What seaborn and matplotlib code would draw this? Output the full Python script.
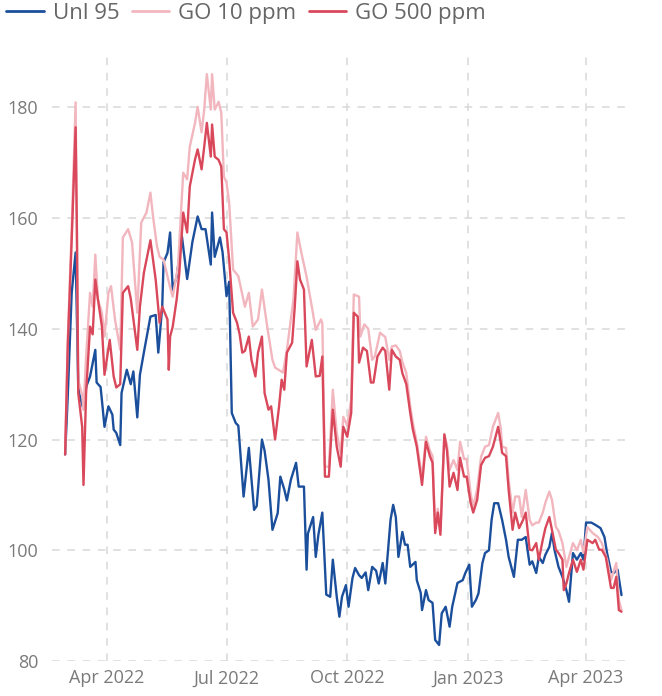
import pandas as pd
import matplotlib.pyplot as plt
import matplotlib.dates as mdates
import seaborn as sns

sns.set_theme(style="white")
plt.rcParams["font.family"] = ["Open Sans", "DejaVu Sans"]

start = pd.Timestamp("2022-02-28")

# day offsets from start, and index values
unl_days = [0, 2, 5, 8, 10, 11, 14, 16, 19, 23, 24, 27, 28, 30, 33, 36, 37, 39, 42, 43,
            47, 50, 52, 55, 57, 60, 65, 69, 71, 74, 75, 78, 80, 82, 85, 89, 93, 97, 101, 104,
            107, 111, 112, 114, 118, 120, 123, 125, 127, 130, 132, 136, 140, 144, 146, 150, 152, 155, 158, 162,
            164, 167, 169, 172, 176, 178, 182, 184, 185, 189, 191, 193, 196, 199, 202, 204, 207, 209, 211, 214,
            216, 219, 221, 224, 226, 229, 231, 234, 237, 239, 242, 244, 248, 250, 252, 254, 257, 259, 261, 263,
            267, 268, 271, 272, 275, 277, 280, 282, 285, 287, 290, 293, 295, 299, 303, 305, 308, 310, 313, 315,
            318, 320, 323, 325, 327, 330, 333, 336, 338, 342, 345, 348, 351, 354, 356, 359, 361, 364, 366, 369,
            371, 373, 376, 379, 382, 384, 387, 390, 393, 395, 397, 401, 404, 408, 411, 413, 416, 418, 421, 424]
unl_vals = [117.3, 127.8, 146.5, 153.8, 129.6, 128.0, 125.5, 129.5, 131.4, 136.2, 130.3, 129.5, 127.2, 122.3, 126.0, 124.5, 121.8, 121.2, 119.0, 128.4,
            132.6, 130.0, 132.3, 124.0, 131.7, 135.7, 142.2, 142.5, 135.7, 144.0, 152.0, 153.7, 157.4, 147.0, 149.4, 156.7, 149.0, 155.7, 160.3, 158.0,
            158.0, 151.6, 161.0, 153.0, 156.5, 153.8, 145.9, 148.5, 124.8, 123.0, 122.5, 109.7, 118.5, 107.3, 108.0, 120.0, 118.0, 112.7, 103.7, 106.7,
            113.3, 111.0, 109.0, 112.7, 115.8, 111.5, 111.5, 96.5, 103.0, 106.0, 98.8, 102.8, 106.8, 92.0, 91.6, 98.3, 91.6, 88.0, 91.6, 93.7,
            89.8, 95.0, 96.8, 95.5, 95.0, 96.0, 92.8, 97.0, 96.3, 94.0, 97.7, 94.0, 105.5, 108.2, 106.0, 98.8, 103.3, 101.0, 101.0, 97.0,
            97.9, 94.6, 92.3, 89.2, 92.8, 91.0, 90.5, 83.8, 82.9, 88.6, 89.8, 86.2, 89.8, 94.1, 94.6, 95.9, 97.4, 89.8, 91.0, 92.2,
            97.7, 99.5, 100.0, 105.5, 108.5, 108.5, 105.5, 101.9, 98.8, 95.2, 101.9, 101.9, 102.4, 97.4, 98.0, 95.9, 98.8, 97.7, 99.2, 100.6,
            103.1, 100.0, 97.0, 95.2, 92.8, 90.7, 99.5, 98.3, 99.5, 98.3, 105.0, 105.0, 104.6, 104.0, 102.4, 99.5, 96.1, 95.9, 96.5, 91.9]

go500_days = [0, 2, 5, 8, 9, 10, 13, 14, 16, 19, 21, 23, 25, 28, 30, 34, 37, 39, 42, 44,
              48, 50, 55, 57, 60, 65, 69, 72, 74, 78, 79, 80, 82, 85, 87, 90, 93, 95, 99, 101,
              104, 106, 108, 111, 112, 114, 117, 119, 121, 123, 125, 128, 131, 133, 135, 137, 140, 142, 145, 147,
              150, 152, 155, 157, 160, 163, 165, 167, 169, 173, 175, 177, 179, 182, 184, 188, 191, 194, 196, 198,
              201, 204, 207, 210, 212, 215, 218, 220, 223, 224, 227, 230, 233, 235, 238, 242, 244, 247, 249, 252,
              255, 257, 260, 263, 265, 268, 272, 275, 278, 280, 282, 284, 286, 289, 291, 293, 296, 299, 301, 304,
              306, 309, 311, 314, 317, 320, 323, 326, 330, 332, 333, 336, 338, 341, 343, 346, 349, 351, 354, 356,
              359, 361, 364, 366, 369, 371, 374, 376, 379, 380, 382, 384, 387, 390, 393, 395, 398, 402, 404, 407,
              409, 412, 416, 418, 420, 422, 424]
go500_vals = [117.3, 136.8, 156.0, 176.4, 157.4, 128.4, 122.3, 111.8, 128.5, 140.4, 139.0, 148.9, 145.3, 140.5, 131.7, 138.0, 131.4, 129.4, 130.0, 146.5,
              147.7, 145.5, 136.2, 144.0, 150.1, 156.0, 148.9, 141.1, 144.0, 141.7, 132.6, 138.6, 140.4, 145.3, 150.0, 161.0, 157.4, 165.7, 170.6, 172.4,
              168.8, 172.9, 177.2, 171.1, 176.9, 171.1, 170.5, 169.3, 158.0, 157.4, 152.5, 142.9, 141.1, 139.0, 135.7, 136.0, 138.6, 134.4, 131.4, 135.7,
              138.6, 128.4, 125.4, 126.0, 120.0, 125.9, 130.8, 129.0, 135.7, 137.5, 144.0, 152.2, 148.9, 147.1, 133.2, 138.0, 131.4, 131.5, 135.0, 113.3,
              113.3, 125.4, 118.7, 115.1, 122.3, 120.5, 124.8, 142.9, 142.2, 133.9, 136.6, 136.0, 130.3, 130.3, 135.0, 136.6, 136.0, 129.0, 136.2, 135.0,
              134.4, 132.0, 130.0, 124.8, 121.8, 118.7, 111.8, 119.6, 117.0, 115.8, 103.1, 106.8, 102.8, 120.9, 118.0, 111.5, 114.0, 110.9, 116.7, 113.3,
              113.3, 108.6, 106.8, 109.1, 115.4, 116.7, 117.0, 118.7, 122.3, 119.4, 117.6, 117.0, 110.9, 103.7, 106.8, 104.0, 105.5, 106.8, 100.1, 100.0,
              101.3, 98.3, 101.9, 104.0, 106.0, 103.7, 100.1, 99.5, 98.3, 92.8, 94.0, 95.9, 98.3, 96.1, 98.3, 96.5, 101.9, 101.3, 101.9, 100.1,
              100.1, 98.8, 93.2, 93.2, 95.2, 89.2, 88.9]

go10_days = [0, 2, 5, 8, 10, 13, 14, 16, 19, 21, 23, 25, 28, 30, 33, 35, 38, 42, 44, 48,
             51, 55, 58, 62, 65, 67, 70, 72, 75, 78, 80, 82, 86, 90, 93, 95, 99, 101, 104, 106,
             108, 111, 112, 114, 117, 119, 121, 123, 125, 128, 132, 137, 140, 143, 147, 150, 154, 158, 160, 166,
             169, 174, 177, 180, 184, 188, 191, 195, 196, 198, 201, 204, 207, 210, 212, 215, 218, 220, 224, 225,
             228, 231, 234, 236, 240, 244, 247, 249, 252, 255, 257, 260, 263, 265, 268, 272, 275, 278, 280, 282,
             284, 286, 289, 291, 293, 296, 299, 301, 304, 306, 309, 311, 314, 317, 320, 323, 326, 330, 332, 333,
             336, 338, 341, 343, 346, 348, 351, 354, 356, 359, 361, 364, 366, 369, 371, 374, 376, 379, 382, 384,
             387, 390, 393, 395, 398, 402, 406, 409, 413, 416, 420, 422, 424]
go10_vals = [117.3, 138.0, 158.0, 180.9, 130.8, 128.0, 125.4, 135.0, 146.5, 144.0, 153.4, 145.3, 142.9, 138.6, 146.5, 147.7, 141.7, 136.2, 156.5, 158.0,
             155.6, 142.9, 159.2, 161.0, 164.6, 160.3, 154.9, 153.0, 152.5, 149.5, 147.5, 145.8, 151.2, 168.2, 167.0, 172.9, 177.2, 180.1, 175.5, 179.6,
             186.0, 179.6, 186.0, 179.6, 181.0, 179.0, 167.5, 166.4, 162.8, 150.7, 149.5, 144.0, 146.5, 140.4, 141.7, 147.1, 140.4, 134.4, 133.0, 132.1,
             136.2, 145.3, 157.4, 153.8, 149.4, 144.0, 139.8, 141.7, 141.0, 115.1, 115.1, 129.0, 121.2, 117.6, 124.1, 122.5, 127.2, 146.2, 145.8, 138.6,
             140.8, 140.0, 134.4, 135.0, 139.3, 138.5, 134.4, 136.8, 137.0, 136.0, 134.0, 132.0, 126.0, 123.0, 119.5, 113.0, 120.5, 118.0, 117.0, 104.0,
             107.5, 103.5, 121.0, 119.0, 114.5, 116.3, 114.5, 119.6, 116.5, 116.5, 110.3, 107.9, 111.0, 116.9, 118.7, 119.0, 122.3, 124.8, 122.0, 118.7,
             118.5, 112.7, 106.8, 109.7, 109.7, 106.0, 110.9, 105.5, 104.5, 105.0, 105.0, 106.8, 108.6, 110.6, 109.1, 104.2, 103.5, 101.3, 97.0, 98.8,
             101.3, 100.0, 101.9, 99.5, 104.2, 103.1, 102.4, 101.3, 98.3, 94.6, 97.7, 91.0, 89.2]

series_names = ["Unl 95", "GO 10 ppm", "GO 500 ppm"]
colors = ["#1b4f9c", "#f2b6be", "#d9485b"]
tick_dates = ["2022-04-01", "2022-07-01", "2022-10-01", "2023-01-01", "2023-04-01"]
y_ticks = [80, 100, 120, 140, 160, 180]


def frame(days, vals, name):
    return pd.DataFrame({"date": start + pd.to_timedelta(days, unit="D"),
                         "value": vals, "series": name})


df = pd.concat([frame(unl_days, unl_vals, series_names[0]),
                frame(go10_days, go10_vals, series_names[1]),
                frame(go500_days, go500_vals, series_names[2])], ignore_index=True)

fig = plt.figure(figsize=(6.62, 6.96), dpi=100)
ax = fig.add_axes([52 / 662, 35 / 696, 580 / 662, 609 / 696])

sns.lineplot(data=df, x="date", y="value", hue="series", hue_order=series_names,
             palette=colors, linewidth=1.7, ax=ax, legend=False)

ax.set_ylim(80, 190)
ax.set_xlim(pd.Timestamp("2022-02-18"), pd.Timestamp("2023-05-06"))
ax.set_yticks(y_ticks)
ax.set_xticks(pd.to_datetime(tick_dates))
ax.xaxis.set_major_formatter(mdates.DateFormatter("%b %Y"))
ax.set_xlabel("")
ax.set_ylabel("")
for s in ax.spines.values():
    s.set_visible(False)
ax.grid(True, color="#d9d9d9", linestyle=(0, (5, 5)), linewidth=1.1)
ax.set_axisbelow(True)
ax.tick_params(axis="both", length=0, labelsize=13, colors="#7a7a7a")
ax.tick_params(axis="y", pad=10)
ax.tick_params(axis="x", pad=6)

handles = [plt.Line2D([], [], color=c, linewidth=2) for c in colors]
fig.legend(handles, series_names, loc="upper left", bbox_to_anchor=(6 / 662, 1 - 3 / 696),
           ncol=3, frameon=False, fontsize=16, handlelength=1.7, handletextpad=0.4,
           columnspacing=0.55, borderpad=0, borderaxespad=0, labelcolor="#666666")

fig.savefig("out.png", dpi=100)
